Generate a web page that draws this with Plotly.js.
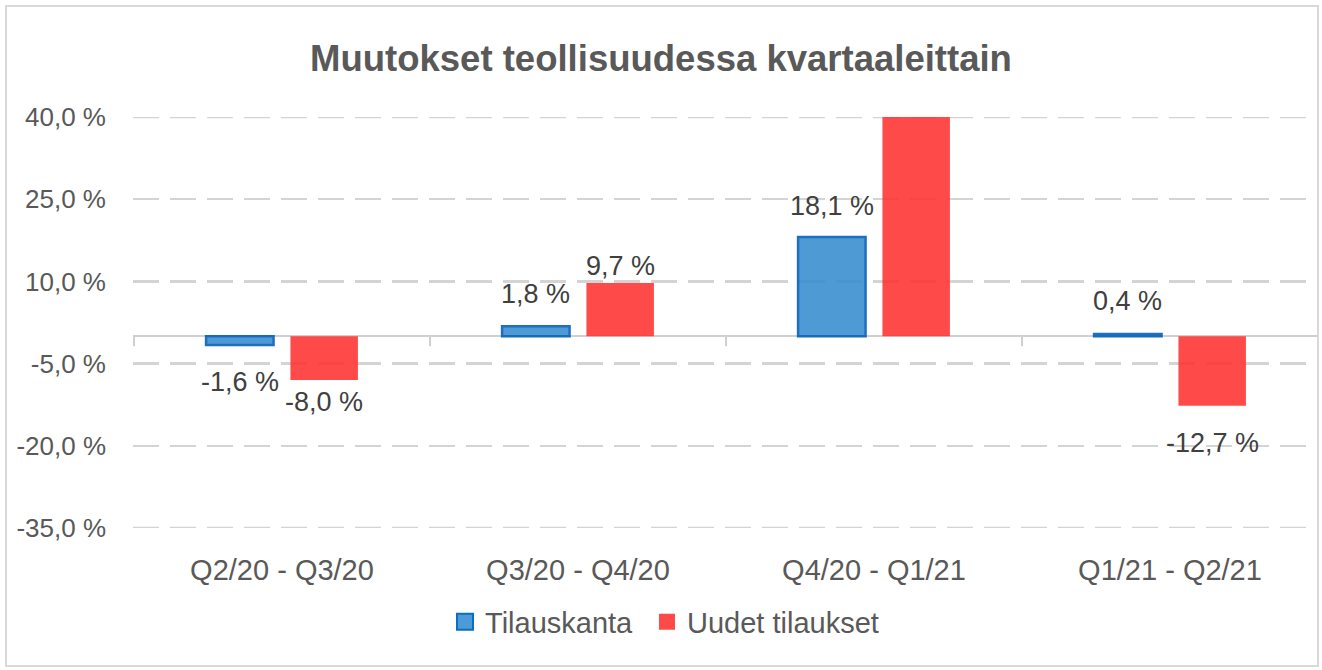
<!DOCTYPE html>
<html>
<head>
<meta charset="utf-8">
<script src="https://cdn.plot.ly/plotly-3.0.1.min.js"></script>
<style>
  html, body { margin: 0; padding: 0; background: #fff; }
  #wrap { position: relative; width: 1322px; height: 670px; }
  #chart { position: absolute; left: 0; top: 0; width: 1322px; height: 670px; }
  #frame { position: absolute; left: 5px; top: 5px; width: 1310px; height: 658px; border: 2px solid #D9D9D9; pointer-events: none; }
</style>
</head>
<body>
<div id="wrap"><div id="chart"></div><div id="frame"></div></div>
<script>
const categories = ["Q2/20 - Q3/20", "Q3/20 - Q4/20", "Q4/20 - Q1/21", "Q1/21 - Q2/21"];
const tilauskanta = [-1.6, 1.8, 18.1, 0.4];
const uudetTilaukset = [-8.0, 9.7, 45.0, -12.7];
const seriesNames = ["Tilauskanta", "Uudet tilaukset"];
const yTickVals = [-35, -20, -5, 10, 25, 40];
const yTickText = ["-35,0 %", "-20,0 %", "-5,0 %", "10,0 %", "25,0 %", "40,0 %"];
const titleText = "Muutokset teollisuudessa kvartaaleittain";

// style: gap (px) between bar end and label centre, per label
const labelGapBlue = [37, 32, 31, 33];
const labelGapRed = [22, 17, 0, 37];

const yMin = -35, yMax = 40;
const fmt = v => v.toFixed(1).replace(".", ",") + " %";

const FONT = "Liberation Sans, Arial, sans-serif";
const BLUE = "#358DD0", BLUE_LINE = "#005BBA", RED = "#FF3131";
const BAR_OPACITY = 0.88;
const LEG_BLUE = "#4D9BD6", LEG_BLUE_LINE = "#0A6FC2", LEG_RED = "#FF4A4A";
const GRID = "#D4D4D4";

const W = 1322, H = 670;
const M = { l: 133, r: 4, t: 117, b: 142 };
const BARGAP = 0.43, BARGROUPGAP = 0.2;
const plotW = W - M.l - M.r, plotH = H - M.t - M.b;
const catW = plotW / categories.length;
const barOffset = ((1 - BARGAP) * catW / 2) / 2;

const traces = [
  {
    type: "bar", x: categories, y: tilauskanta, name: seriesNames[0], showlegend: false,
    marker: { color: BLUE, opacity: BAR_OPACITY, line: { color: BLUE_LINE, width: 2.5 } }, hoverinfo: "skip"
  },
  {
    type: "bar", x: categories, y: uudetTilaukset, name: seriesNames[1], showlegend: false,
    marker: { color: RED, opacity: BAR_OPACITY, line: { width: 0 } }, hoverinfo: "skip"
  },
  {
    type: "scatter", mode: "markers", x: [null], y: [null], name: seriesNames[0], legend: "legend",
    marker: { symbol: "square", size: 16, color: LEG_BLUE, line: { color: LEG_BLUE_LINE, width: 2 } }
  },
  {
    type: "scatter", mode: "markers", x: [null], y: [null], name: seriesNames[1], legend: "legend2",
    marker: { symbol: "square", size: 16, color: LEG_RED, line: { width: 0 } }
  }
];

const annotations = [];
function addLabels(values, gaps, dir) {
  values.forEach((v, i) => {
    if (v > yMax || v < yMin) return;
    annotations.push({
      x: categories[i], y: v, xref: "x", yref: "y", xshift: dir * barOffset,
      yshift: v >= 0 ? gaps[i] : -gaps[i], yanchor: "middle", xanchor: "center",
      text: fmt(v), showarrow: false,
      font: { family: FONT, size: 27, color: "#404040" }
    });
  });
}
addLabels(tilauskanta, labelGapBlue, -1);
addLabels(uudetTilaukset, labelGapRed, 1);

const shapes = [];
for (let i = 0; i < categories.length; i++) {
  shapes.push({
    type: "line", xref: "x", yref: "y", x0: i - 0.5, x1: i - 0.5,
    ysizemode: "pixel", yanchor: 0, y0: 0, y1: -10,
    line: { color: "#D0D0D0", width: 2 }
  });
}
// edge gridlines (Plotly drops grid lines lying on the plot edges)
[yMin, yMax].forEach(v => shapes.push({
  type: "line", xref: "paper", yref: "y", x0: 0, x1: 1, y0: v, y1: v, layer: "below",
  line: { color: GRID, width: 2.5, dash: "26px,11px" }
}));

const legendBase = {
  orientation: "h", xanchor: "left", y: (528 - 622) / plotH, yanchor: "middle",
  font: { family: FONT, size: 29, color: "#595959" }, itemwidth: 30,
  bgcolor: "rgba(0,0,0,0)"
};

const layout = {
  width: W, height: H,
  margin: M,
  paper_bgcolor: "rgba(0,0,0,0)", plot_bgcolor: "rgba(0,0,0,0)",
  font: { family: FONT, color: "#595959" },
  title: {
    text: "<b>" + titleText + "</b>",
    font: { family: FONT, size: 36.5, color: "#595959" },
    x: 0.5, xref: "container", xanchor: "center", y: 1 - 58 / H, yanchor: "middle"
  },
  barmode: "group", bargap: BARGAP, bargroupgap: BARGROUPGAP,
  xaxis: {
    type: "category", showgrid: false, zeroline: false, showline: false, ticks: "",
    tickfont: { family: FONT, size: 29, color: "#595959" },
    ticklabelstandoff: 22, fixedrange: true
  },
  yaxis: {
    range: [yMin, yMax], tickvals: yTickVals, ticktext: yTickText,
    tickfont: { family: FONT, size: 26, color: "#595959" },
    showgrid: true, gridcolor: GRID, gridwidth: 2.5, griddash: "26px,11px",
    zeroline: true, zerolinecolor: "#D0D0D0", zerolinewidth: 2,
    showline: false, ticks: "", ticklabelstandoff: 26, fixedrange: true
  },
  legend: Object.assign({}, legendBase, { x: (445 - M.l) / plotW }),
  legend2: Object.assign({}, legendBase, { x: (647 - M.l) / plotW }),
  annotations: annotations,
  shapes: shapes,
  showlegend: true
};

Plotly.newPlot("chart", traces, layout, { displayModeBar: false, staticPlot: true });
</script>
</body>
</html>
